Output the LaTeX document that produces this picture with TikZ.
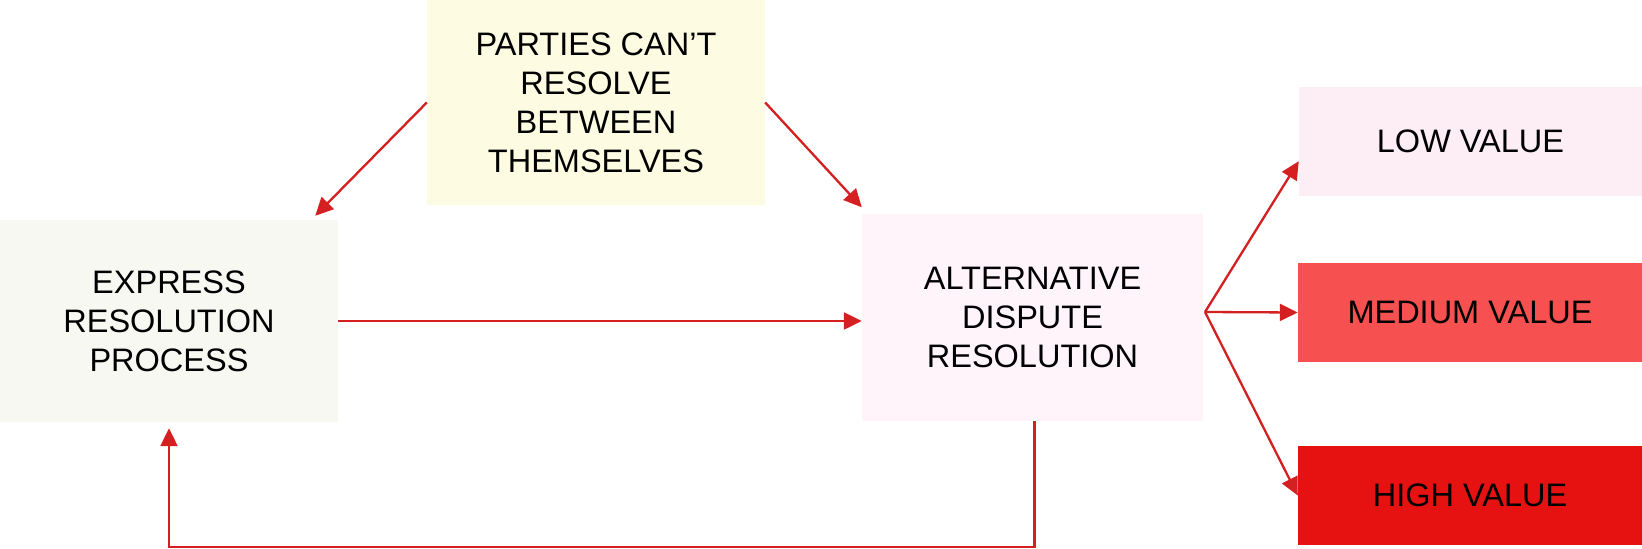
\documentclass[tikz,border=0pt]{standalone}
\usepackage{fontspec}
\setmainfont{Liberation Sans}
\usetikzlibrary{arrows.meta,calc}
\definecolor{linered}{HTML}{D42020}
\definecolor{topfill}{HTML}{FDFBE1}
\definecolor{expfill}{HTML}{F8F8F3}
\definecolor{adrfill}{HTML}{FEF4FA}
\definecolor{lowfill}{HTML}{FDEEF6}
\definecolor{medfill}{HTML}{F65050}
\definecolor{highfill}{HTML}{E61212}
\begin{document}
\begin{tikzpicture}[x=1pt,y=-1pt,
  box/.style={rectangle,inner sep=0pt,align=center,text=black,
    font=\fontsize{32.5}{39}\selectfont},
  conn/.style={draw=linered,line width=2.3pt,-{Triangle[length=18pt,width=17pt]}}]
\useasboundingbox[fill=white] (0,0) rectangle (1642,549);
\node[box,fill=topfill,minimum width=338pt,minimum height=205pt] (top) at (596,102.5)
  {PARTIES CAN’T\\RESOLVE\\BETWEEN\\THEMSELVES};
\node[box,fill=expfill,minimum width=338pt,minimum height=202pt] (express) at (169,321)
  {EXPRESS\\RESOLUTION\\PROCESS};
\node[box,fill=adrfill,minimum width=341pt,minimum height=207pt] (adr) at (1032.5,317)
  {ALTERNATIVE\\DISPUTE\\RESOLUTION};
\node[box,fill=lowfill,minimum width=343pt,minimum height=109pt] (low) at (1470.5,141.5)
  {LOW VALUE};
\node[box,fill=medfill,minimum width=344pt,minimum height=99pt] (med) at (1470,312.5)
  {MEDIUM VALUE};
\node[box,fill=highfill,minimum width=344pt,minimum height=99pt] (high) at (1470,495.5)
  {HIGH VALUE};
\coordinate (fan) at (1205,312);
\coordinate (loopR) at ($(adr.south)+(2,126)$);
\coordinate (loopL) at (express.south |- loopR);
\draw[conn] (top.west) -- ($(express.north east)+(-23,-4)$);
\draw[conn] (top.east) -- ($(adr.north west)+(0,-6)$);
\draw[conn] (express.east) -- (express.east -| adr.west);
\draw[conn] (fan) -- ($(low.south west)+(0,-35)$);
\draw[conn] (fan) -- (med.west);
\draw[conn] (fan) -- (high.west);
\draw[conn] ($(adr.south)+(2,0)$) -- (loopR) -- (loopL) -- ($(express.south)+(0,6)$);
\end{tikzpicture}
\end{document}
